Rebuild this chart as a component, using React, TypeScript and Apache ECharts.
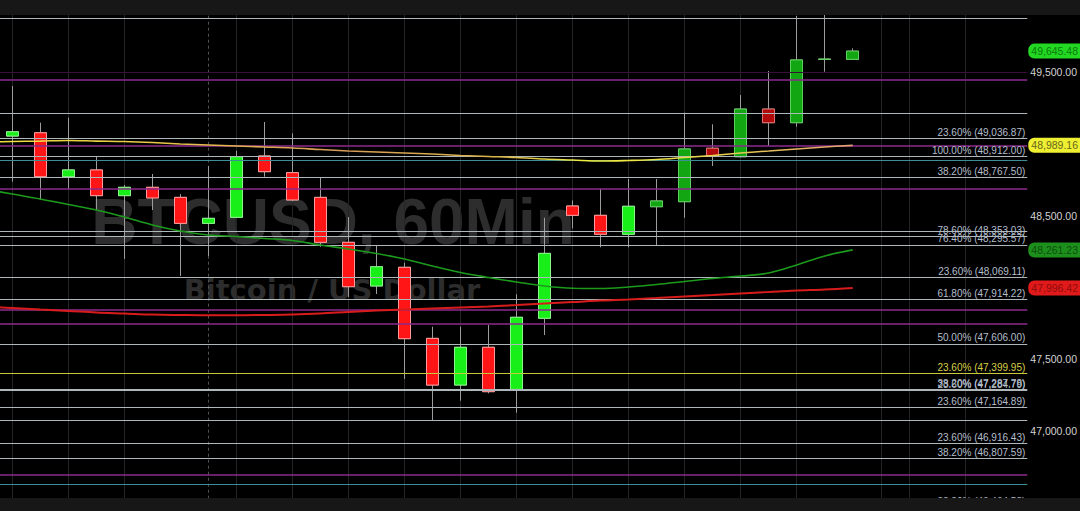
import React, { useEffect, useRef } from "react";
import * as echarts from "echarts";

// ---------------- data ----------------
const candleIdx = [0, 1, 2, 3, 4, 5, 6, 7, 8, 9, 10, 11, 12, 13, 14, 15, 16, 17, 18, 19, 20, 21, 22, 23, 24, 25, 26, 27, 28, 29, 30];
const opens = [49054, 49077, 48771, 48818, 48639, 48697, 48627, 48446, 48488, 48915, 48799, 48627, 48314, 48010, 48140, 47645, 47320, 47583, 47290, 47785, 48567, 48502, 48370, 48562, 48597, 48969, 48910, 49242, 49147, 49588, 49588];
const closes = [49084, 48771, 48818, 48639, 48697, 48623, 48446, 48481, 48910, 48806, 48609, 48314, 48005, 48144, 47643, 47320, 47583, 47274, 47792, 48237, 48502, 48370, 48565, 48602, 48964, 48917, 49242, 49147, 49584, 49590, 49645.48];
const lows = [48736, 48609, 48685, 48539, 48198, 48539, 48079, 48219, 48485, 48771, 48600, 48283, 47933, 47954, 47362, 47077, 47211, 47262, 47127, 47668, 48411, 48279, 48279, 48295, 48485, 48845, 48905, 48985, 49119, 49502, 49588];
const highs = [49402, 49147, 49182, 48915, 48713, 48790, 48650, 48845, 48952, 49152, 49073, 48764, 48490, 48295, 48172, 47726, 47726, 47738, 47952, 48485, 48606, 48687, 48755, 48755, 49217, 49136, 49340, 49507, 49890, 49897, 49665];

// moving averages start one bar before the first visible candle
const maIdx = [-1, 0, 1, 2, 3, 4, 5, 6, 7, 8, 9, 10, 11, 12, 13, 14, 15, 16, 17, 18, 19, 20, 21, 22, 23, 24, 25, 26, 27, 28, 29, 30];
const maYellow = [49013, 49016, 49019, 49023, 49019, 49016, 49009, 48999, 48992, 48985, 48978, 48971, 48960, 48950, 48943, 48936, 48929, 48919, 48912, 48905, 48894, 48887, 48880, 48884, 48891, 48905, 48919, 48936, 48950, 48964, 48978, 48989.16];
const maGreen = [48685, 48650, 48616, 48577, 48539, 48490, 48435, 48393, 48365, 48354, 48341, 48327, 48295, 48267, 48236, 48198, 48149, 48104, 48069, 48038, 48010, 47994, 47992, 48003, 48020, 48041, 48062, 48079, 48100, 48156, 48219, 48261.23];
const maRed = [47866, 47857, 47846, 47836, 47825, 47818, 47811, 47808, 47806, 47806, 47808, 47811, 47818, 47829, 47839, 47846, 47853, 47860, 47867, 47877, 47888, 47898, 47909, 47916, 47926, 47937, 47947, 47958, 47968, 47978, 47985, 47996.42];

const fibPcts = ["23.60%", "100.00%", "38.20%", "78.60%", "76.40%", "23.60%", "61.80%", "50.00%", "23.60%", "38.20%", "23.60%", "23.60%", "23.60%", "38.20%", "38.20%"];
const fibValues = [49036.87, 48912.0, 48767.5, 48353.03, 48295.57, 48069.11, 47914.22, 47606.0, 47399.95, 47287.78, 47284.79, 47164.89, 46916.43, 46807.59, 46464.58];

const greyLevels = [49876, 49212, 48389, 47072];
const purpleLevels = [49444, 48985, 48685, 47843, 47745, 46694];
const dimPurpleLevels = [49500];
const tealLevels = [48884, 46631];

const tagValues = [49645.48, 48989.16, 48261.23, 47996.42];
const yTickValues = [49500, 48500, 47500, 47000];

const vGridIdx = [0, 2, 4, 8, 10, 12, 14, 16, 18, 20, 22, 24, 26, 28, 31, 32, 34];
const sessionIdx = [7];

const titleText = "BTCUSD, 60Min";
const subtitleText = "Bitcoin / US Dollar";

// ---------------- styles ----------------
const FF = '"Liberation Sans", Arial, sans-serif';
const tagStyles = [
  { bg: "#22d822", fg: "#0b7a0b" },
  { bg: "#f0f032", fg: "#66661a" },
  { bg: "#1d8f1d", fg: "#0b4f0b" },
  { bg: "#e01a1a", fg: "#8f0b0b" },
];
const highlightFib = 47399.95;
const darkFrom = 23;

const fmt = (v: number) => {
  const [i, d] = v.toFixed(2).split(".");
  return i.replace(/\B(?=(\d{3})+(?!\d))/g, ",") + "." + d;
};

function bodyStyle(i: number) {
  const up = closes[i] >= opens[i];
  const darkTone = i >= darkFrom;
  const fill = up ? (darkTone ? "#12a612" : "#18ef18") : darkTone ? "#b00a0a" : "#ff1515";
  const edge = up ? (darkTone ? "#5ed05e" : "#8cf58c") : darkTone ? "#e07070" : "#ff9a9a";
  return { color: fill, color0: fill, borderColor: edge, borderColor0: edge, borderWidth: 1 };
}

function buildOption() {
  const hLine = (v: number, color: string, width = 1) => ({
    yAxis: v,
    lineStyle: { color, width, type: "solid" },
    label: { show: false },
  });

  const fibLines = fibValues.map((v, k) => {
    const hl = v === highlightFib;
    return {
      yAxis: v,
      lineStyle: { color: hl ? "#c8c83a" : "#aeb8ba", width: 1, type: "solid" },
      label: {
        show: true,
        position: "insideEndTop",
        distance: [2, 1],
        formatter: `${fibPcts[k]} (${fmt(v)})`,
        color: hl ? "#d8d048" : "#b4bfcc",
        fontSize: 10,
        fontFamily: FF,
      },
    };
  });

  const tagLines = tagValues.map((v, k) => ({
    yAxis: v,
    lineStyle: { color: "rgba(0,0,0,0)", width: 1, type: "solid" },
    label: {
      show: true,
      position: "end",
      distance: 1,
      formatter: fmt(v),
      color: tagStyles[k].fg,
      backgroundColor: tagStyles[k].bg,
      borderRadius: [6, 0, 0, 6],
      padding: [2, 6, 2, 3],
      fontSize: 10.5,
      fontFamily: FF,
    },
  }));

  return {
    animation: false,
    backgroundColor: "#000",
    grid: { left: 0, right: 51, top: 15, bottom: 0.3, containLabel: false },
    xAxis: { type: "value", min: -0.438, max: 36.23, show: false },
    yAxis: {
      type: "value",
      position: "right",
      min: 46445,
      max: 49897,
      minInterval: 500,
      maxInterval: 500,
      axisLine: { show: true, lineStyle: { color: "#701818", width: 1 } },
      axisTick: { show: false },
      splitLine: { show: false },
      axisLabel: {
        show: true,
        showMinLabel: false,
        showMaxLabel: false,
        margin: 3,
        color: "#d2d2d2",
        fontSize: 10.5,
        fontFamily: FF,
        formatter: (v: number) => (yTickValues.includes(v) ? fmt(v) : ""),
      },
    },
    graphic: [
      {
        type: "text",
        z: 0,
        x: 333,
        y: 222,
        silent: true,
        style: {
          text: titleText,
          fill: "#2d2d2d",
          font: `bold 64px ${FF}`,
          textAlign: "center",
          textVerticalAlign: "middle",
          align: "center",
          verticalAlign: "middle",
        },
      },
      {
        type: "text",
        z: 0,
        x: 332,
        y: 290,
        silent: true,
        style: {
          text: subtitleText,
          fill: "#2d2d2d",
          font: 'bold 29px "DejaVu Sans", sans-serif',
          textAlign: "center",
          textVerticalAlign: "middle",
          align: "center",
          verticalAlign: "middle",
        },
      },
      { type: "rect", z: 100, silent: true, shape: { x: 0, y: 0, width: 1080, height: 15 }, style: { fill: "#171717" } },
      { type: "rect", z: 100, silent: true, shape: { x: 0, y: 498, width: 1080, height: 13 }, style: { fill: "#171717" } },
    ],
    series: [
      {
        type: "line",
        data: [],
        silent: true,
        clip: false,
        z: 1,
        markLine: {
          silent: true,
          symbol: "none",
          z: 1,
          animation: false,
          data: [
            ...vGridIdx.map((i) => ({ xAxis: i, lineStyle: { color: "#242424", width: 1, type: "solid" }, label: { show: false } })),
            ...sessionIdx.map((i) => ({ xAxis: i, lineStyle: { color: "#505050", width: 1, type: [3, 3] }, label: { show: false } })),
          ],
        },
      },
      {
        type: "candlestick",
        z: 2,
        barWidth: 13,
        silent: true,
        data: candleIdx.map((i) => [i, opens[i], closes[i], lows[i], highs[i]]),
        itemStyle: { color: "transparent", color0: "transparent", borderColor: "#9c9c9c", borderColor0: "#9c9c9c", borderWidth: 1 },
      },
      {
        type: "candlestick",
        z: 3,
        barWidth: 13,
        silent: true,
        data: candleIdx.map((i) => ({
          value: [i, opens[i], closes[i], Math.min(opens[i], closes[i]), Math.max(opens[i], closes[i])],
          itemStyle: bodyStyle(i),
        })),
      },
      {
        type: "line",
        data: [],
        silent: true,
        clip: false,
        z: 4,
        markLine: {
          silent: true,
          symbol: "none",
          z: 4,
          animation: false,
          data: [
            ...dimPurpleLevels.map((v) => hLine(v, "#3a103a")),
            ...greyLevels.map((v) => hLine(v, "#aeb8ba")),
            ...purpleLevels.map((v) => hLine(v, "#8c2a8c", 1.5)),
            ...tealLevels.map((v) => hLine(v, "#3d8e96")),
            ...fibLines,
          ],
        },
      },
      {
        type: "line",
        z: 6,
        smooth: 0.35,
        showSymbol: false,
        silent: true,
        data: maIdx.map((x, k) => [x, maYellow[k]]),
        lineStyle: {
          width: 1.6,
          color: {
            type: "linear",
            x: 0,
            y: 0,
            x2: 1,
            y2: 0,
            colorStops: [
              { offset: 0, color: "#f0e040" },
              { offset: 0.2, color: "#e8c848" },
              { offset: 0.4, color: "#d89a58" },
              { offset: 0.6, color: "#d8b848" },
              { offset: 0.7, color: "#f0f040" },
              { offset: 0.85, color: "#e8d050" },
              { offset: 1, color: "#e0a070" },
            ],
          },
        },
      },
      {
        type: "line",
        z: 6,
        smooth: 0.35,
        showSymbol: false,
        silent: true,
        data: maIdx.map((x, k) => [x, maGreen[k]]),
        lineStyle: { width: 1.6, color: "#1c9a1c" },
      },
      {
        type: "line",
        z: 6,
        smooth: 0.35,
        showSymbol: false,
        silent: true,
        data: maIdx.map((x, k) => [x, maRed[k]]),
        lineStyle: { width: 2, color: "#d81c1c" },
      },
      {
        type: "line",
        data: [],
        silent: true,
        clip: false,
        z: 10,
        markLine: {
          silent: true,
          symbol: "none",
          z: 10,
          animation: false,
          data: tagLines,
        },
      },
    ],
  };
}

export default function App() {
  const ref = useRef<HTMLDivElement>(null);
  useEffect(() => {
    if (!ref.current) return;
    const chart = echarts.init(ref.current, null, { renderer: "svg" });
    chart.setOption(buildOption() as any);
    return () => chart.dispose();
  }, []);
  return <div ref={ref} style={{ position: "fixed", left: 0, top: 0, width: 1080, height: 511 }} />;
}
